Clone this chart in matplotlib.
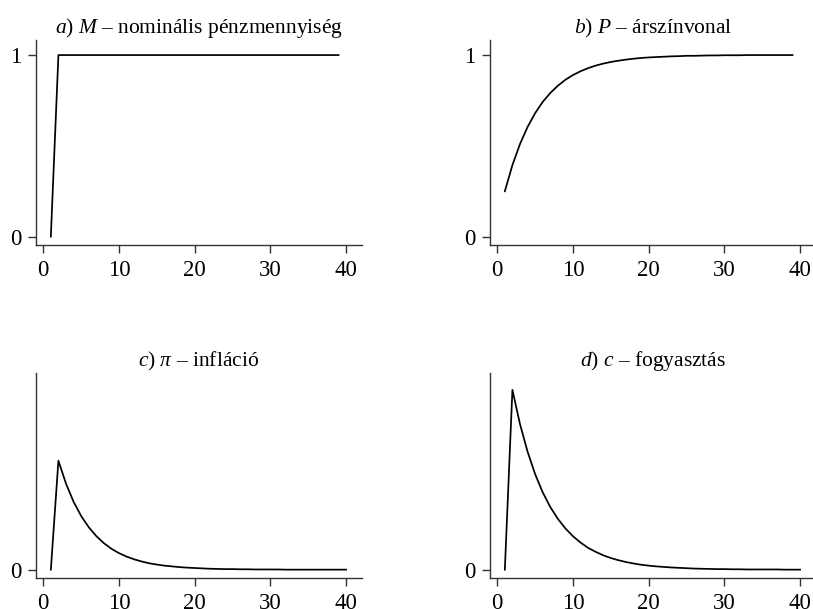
#!/usr/bin/env python3
"""Monetary shock impulse responses - four panel figure."""

import matplotlib
matplotlib.use("Agg")
import matplotlib.pyplot as plt

# periods
t_ab = list(range(1, 40))   # panels a, b: 1..39
t_cd = list(range(1, 41))   # panels c, d: 1..40

# a) nominal money supply
money = [0.0, 1.0, 1.0, 1.0, 1.0, 1.0, 1.0, 1.0, 1.0, 1.0,
         1.0, 1.0, 1.0, 1.0, 1.0, 1.0, 1.0, 1.0, 1.0, 1.0,
         1.0, 1.0, 1.0, 1.0, 1.0, 1.0, 1.0, 1.0, 1.0, 1.0,
         1.0, 1.0, 1.0, 1.0, 1.0, 1.0, 1.0, 1.0, 1.0]

# b) price level
price = [0.250, 0.394, 0.510, 0.604, 0.680, 0.742, 0.791, 0.831, 0.864, 0.890,
         0.911, 0.928, 0.942, 0.953, 0.962, 0.969, 0.975, 0.980, 0.984, 0.987,
         0.989, 0.991, 0.993, 0.994, 0.996, 0.996, 0.997, 0.998, 0.998, 0.999,
         0.999, 0.999, 1.000, 1.000, 1.000, 1.000, 1.000, 1.000, 1.000]

# c) inflation
inflation = [0.000, 0.600, 0.474, 0.374, 0.296, 0.234, 0.185, 0.146, 0.115, 0.091,
             0.072, 0.057, 0.045, 0.035, 0.028, 0.022, 0.018, 0.014, 0.011, 0.009,
             0.007, 0.005, 0.004, 0.003, 0.003, 0.002, 0.002, 0.001, 0.001, 0.001,
             0.001, 0.000, 0.000, 0.000, 0.000, 0.000, 0.000, 0.000, 0.000, 0.000]

# d) consumption
consumption = [0.000, 0.990, 0.802, 0.650, 0.526, 0.426, 0.345, 0.280, 0.227, 0.184,
               0.149, 0.120, 0.098, 0.079, 0.064, 0.052, 0.042, 0.034, 0.027, 0.022,
               0.018, 0.015, 0.012, 0.010, 0.008, 0.006, 0.005, 0.004, 0.003, 0.003,
               0.002, 0.002, 0.001, 0.001, 0.001, 0.001, 0.001, 0.000, 0.000, 0.000]

x_ticks = [0, 10, 20, 30, 40]

titles = [
    r"$\mathit{a)\ M}$ – nominális pénzmennyiség",
    r"$\mathit{b)\ P}$ – árszínvonal",
    r"$\mathit{c)}\ \pi$ – infláció",
    r"$\mathit{d)\ c}$ – fogyasztás",
]

plt.rcParams["font.family"] = ["Liberation Serif", "DejaVu Serif"]
plt.rcParams["mathtext.fontset"] = "custom"
plt.rcParams["mathtext.rm"] = "Liberation Serif"
plt.rcParams["mathtext.it"] = "Liberation Serif:italic"

W, H = 813, 609
fig = plt.figure(figsize=(W / 100, H / 100), dpi=100)

# axes boxes in pixels: left, top, width, height
boxes = [(36, 40, 326, 205), (490, 40, 326, 205),
         (36, 373, 326, 205), (490, 373, 326, 205)]
series = [(t_ab, money), (t_ab, price), (t_cd, inflation), (t_cd, consumption)]

for i, ((l, top, w, h), (x, y), title) in enumerate(zip(boxes, series, titles)):
    ax = fig.add_axes([l / W, 1 - (top + h) / H, w / W, h / H])
    ax.plot(x, y, color="black", lw=1.25)
    ax.set_xlim(-0.96, 42.1)
    ax.set_ylim(-0.046, 1.083)
    ax.set_xticks(x_ticks)
    ax.set_yticks([0, 1] if i < 2 else [0])
    for side in ("top", "right"):
        ax.spines[side].set_visible(False)
    for side in ("left", "bottom"):
        ax.spines[side].set_color("#333333")
        ax.spines[side].set_linewidth(1.0)
    ax.tick_params(direction="out", length=5.5, width=1.0, color="#333333",
                   labelsize=16.5)
    ax.tick_params(axis="x", pad=5)
    ax.tick_params(axis="y", pad=5)
    ax.set_title(title, fontsize=15.5, pad=5)

fig.savefig("out.png", dpi=100)
plt.close(fig)
